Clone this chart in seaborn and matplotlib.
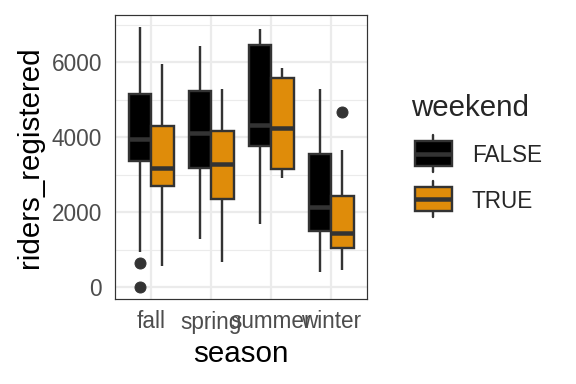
import matplotlib
matplotlib.use("Agg")
import matplotlib.pyplot as plt
from matplotlib.legend_handler import HandlerBase
from matplotlib.patches import Rectangle, Patch
from matplotlib.lines import Line2D
from matplotlib.ticker import MultipleLocator
import pandas as pd
import seaborn as sns

seasons = ["fall", "spring", "summer", "winter"]
weekend_levels = ["FALSE", "TRUE"]

# registered riders per season / weekend group
fall_false = [18, 640, 933, 3378, 3500, 3800, 3956, 4300, 4700, 5147, 5600, 6200, 6933]
fall_true = [569, 1500, 2711, 2900, 3173, 3700, 4302, 5000, 5947]
spring_false = [1298, 2300, 3173, 3600, 4124, 4700, 5236, 5800, 6436]
spring_true = [676, 1500, 2356, 2800, 3280, 3700, 4178, 4700, 5298]
summer_false = [1698, 3000, 3769, 4000, 4329, 5400, 6471, 6700, 6889]
summer_true = [2924, 3050, 3147, 3700, 4240, 4900, 5573, 5700, 5858]
winter_false = [409, 1000, 1511, 1800, 2151, 2800, 3556, 4400, 5298]
winter_true = [462, 700, 900, 1058, 1200, 1300, 1440, 1800, 2100, 2436, 3000, 3662, 4667]

yticks = [0, 2000, 4000, 6000]

groups = {
    ("fall", "FALSE"): fall_false, ("fall", "TRUE"): fall_true,
    ("spring", "FALSE"): spring_false, ("spring", "TRUE"): spring_true,
    ("summer", "FALSE"): summer_false, ("summer", "TRUE"): summer_true,
    ("winter", "FALSE"): winter_false, ("winter", "TRUE"): winter_true,
}
rows = [(s, w, v) for (s, w), vals in groups.items() for v in vals]
df = pd.DataFrame(rows, columns=["season", "weekend", "riders_registered"])

line_col = "#333333"
palette = {"FALSE": "#000000", "TRUE": "#DF8C0A"}
lw = 2.4

sns.set_theme(style="white")
plt.rcParams["font.family"] = ["Liberation Sans", "DejaVu Sans"]

fig = plt.figure(figsize=(8, 16 / 3), dpi=72)
ax = fig.add_axes([115 / 576, 1 - 298.5 / 384, 252 / 576, 283.5 / 384])

sns.boxplot(data=df, x="season", y="riders_registered", hue="weekend",
            order=seasons, hue_order=weekend_levels, palette=palette,
            saturation=1, width=0.75, gap=0, linecolor=line_col, linewidth=lw,
            fliersize=11, showcaps=False, legend=False, ax=ax,
            medianprops=dict(linewidth=4.5, color=line_col),
            whiskerprops=dict(linewidth=lw, color=line_col),
            flierprops=dict(marker="o", markersize=11, markerfacecolor=line_col,
                            markeredgecolor=line_col))

ax.set_xlim(-0.6, 3.6)
ax.set_ylim(-300, 7262)
ax.set_yticks(yticks)
ax.yaxis.set_minor_locator(MultipleLocator(1000))
ax.set_axisbelow(True)
ax.grid(which="major", color="#EBEBEB", linewidth=2.2)
ax.grid(which="minor", axis="y", color="#EBEBEB", linewidth=1.1)
ax.tick_params(which="minor", length=0)
ax.tick_params(which="major", length=7, width=2, color=line_col,
               labelsize=22.5, labelcolor="#4D4D4D")
ax.tick_params(axis="x", pad=5)
ax.tick_params(axis="y", pad=6)
for sp in ax.spines.values():
    sp.set_color(line_col)
    sp.set_linewidth(1.2)

ax.set_xlabel("season", fontsize=29.5, color="black", labelpad=7)
ax.set_ylabel("riders_registered", fontsize=29.5, color="black", labelpad=7)


# ggplot-like boxplot legend key, drawn around a point just above the text baseline
class BoxKey(HandlerBase):
    def create_artists(self, legend, orig_handle, xdescent, ydescent,
                       width, height, fontsize, trans):
        fc = orig_handle.get_facecolor()
        xl = -xdescent + 4
        xr = -xdescent + width
        xm = (xl + xr) / 2
        yc = 0.4 * fontsize
        kh, bh = 36.6, 24.4
        box = Rectangle((xl, yc - bh / 2), xr - xl, bh, facecolor=fc,
                        edgecolor=line_col, linewidth=lw, transform=trans)
        med = Line2D([xl, xr], [yc, yc], color=line_col, linewidth=4.5,
                     solid_capstyle="butt", transform=trans)
        w1 = Line2D([xm, xm], [yc - kh / 2, yc - bh / 2], color=line_col,
                    linewidth=lw, transform=trans)
        w2 = Line2D([xm, xm], [yc + bh / 2, yc + kh / 2], color=line_col,
                    linewidth=lw, transform=trans)
        return [w1, w2, box, med]


handles = [Patch(facecolor=palette[w]) for w in weekend_levels]
leg = fig.legend(handles, weekend_levels, handler_map={Patch: BoxKey()},
                 loc="upper left", bbox_to_anchor=(411 / 576, 1 - 94 / 384),
                 frameon=False, fontsize=22.5, title="weekend", title_fontsize=29.5,
                 handlelength=1.82, handleheight=1.0, labelspacing=1.0,
                 handletextpad=0.89, borderpad=0, borderaxespad=0,
                 alignment="left")

fig.savefig("out.png", dpi=72)
